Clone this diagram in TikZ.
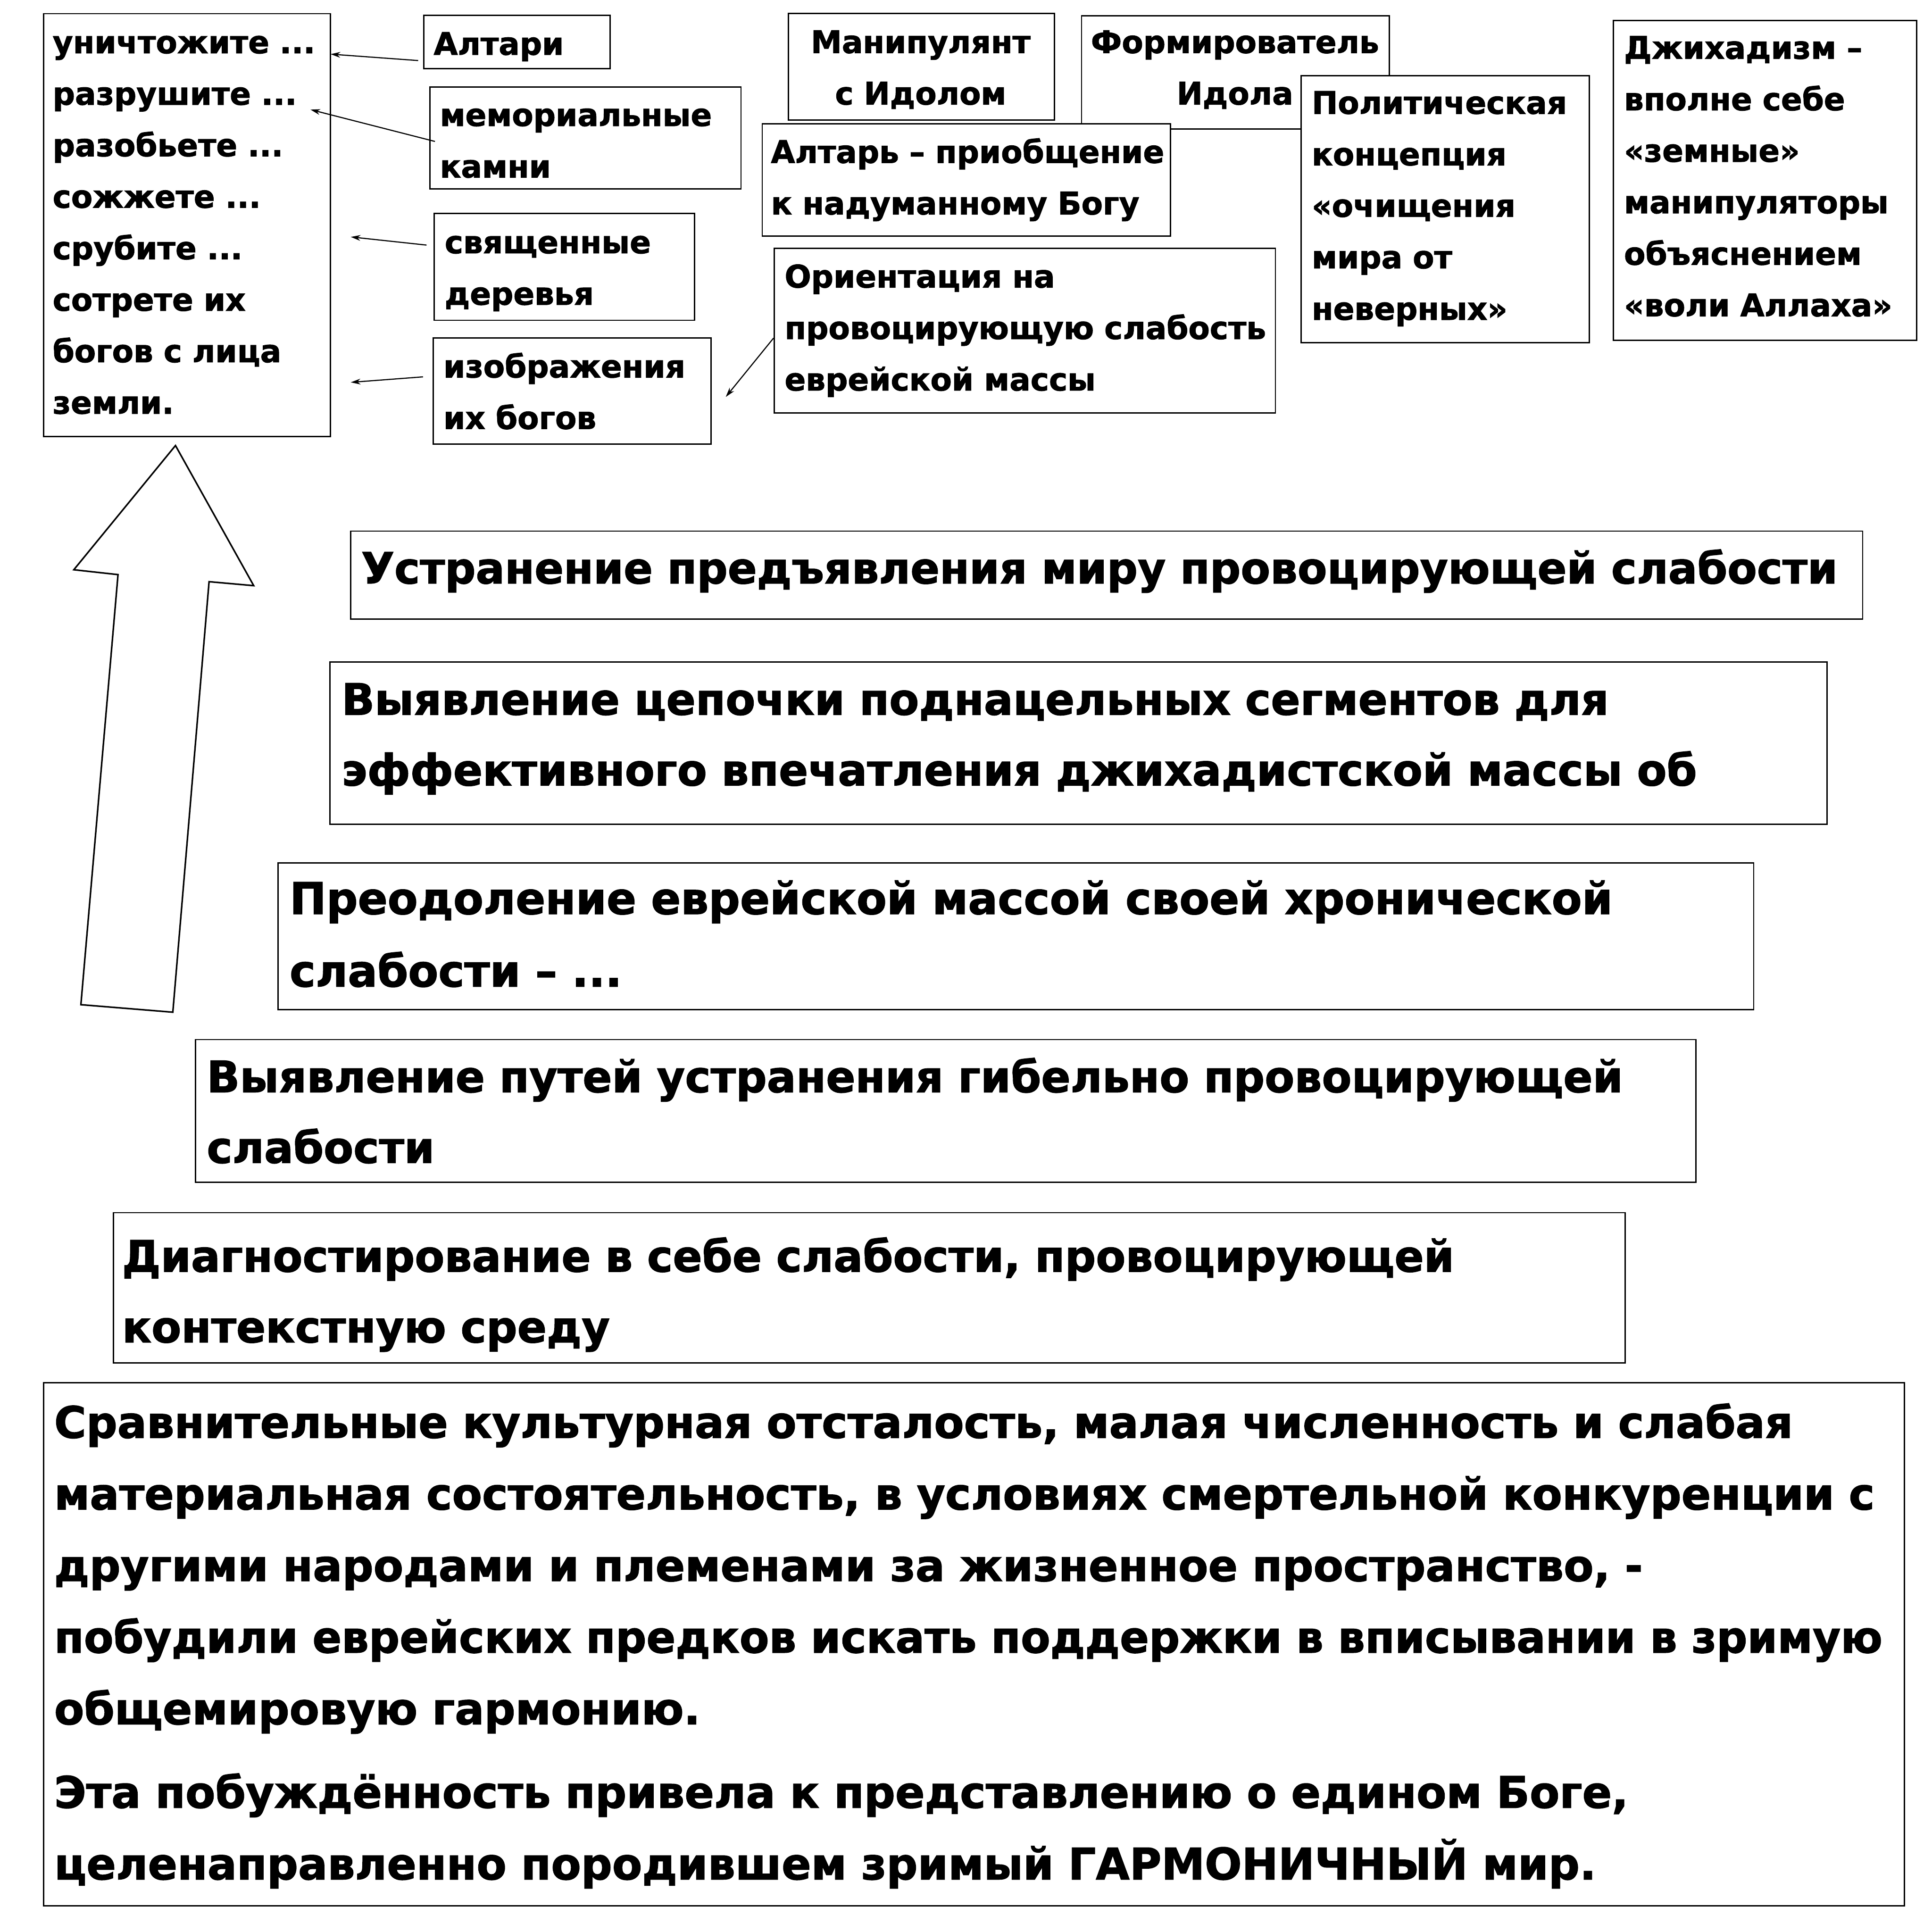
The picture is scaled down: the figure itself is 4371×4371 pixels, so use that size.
\documentclass[tikz,border=0pt]{standalone}
\usepackage{fontspec}
\setmainfont{DejaVu Sans}[BoldFeatures={FakeBold=1.6}]
\usetikzlibrary{arrows.meta}
\begin{document}
\begin{tikzpicture}[x=1pt,y=-1pt,
  box/.style={draw, line width=3pt, fill=white, rectangle, inner sep=0pt, anchor=north west},
  stxt/.style={anchor=base west, inner sep=0pt, align=left, text width=#1,
    font=\fontsize{70.5}{116.5}\selectfont\bfseries},
  ctxt/.style={anchor=base, inner sep=0pt, align=center, text width=#1,
    font=\fontsize{70.5}{116.5}\selectfont\bfseries},
  mtxt/.style={anchor=base west, inner sep=0pt, align=left, text width=#1,
    font=\fontsize{98}{160}\selectfont\bfseries},
  btxt/.style={anchor=base west, inner sep=0pt, align=left, text width=#1,
    font=\fontsize{98.5}{162}\selectfont\bfseries},
  thin/.style={line width=2.5pt, -{Stealth[length=22pt,width=13pt]}},
  bigarrow/.style={draw, line width=3.5pt, fill=white, line join=miter}
]
\useasboundingbox[fill=white] (0,0) rectangle (4371,4371);

% big hollow arrow
\draw[bigarrow] (397,1008) -- (574,1325) -- (473,1316) -- (391,2290) -- (183,2273) -- (267,1300) -- (167,1289) -- cycle;

% left list box
\node[box, minimum width=648.4pt, minimum height=956.2pt] (L) at (97.6,29.5) {};
\node[stxt=640pt] (Lt) at (119,120.5) {уничтожите ...\\разрушите ...\\разобьете ...\\сожжете ...\\срубите ...\\сотрете их\\богов с лица\\земли.};

% small boxes
\node[box, minimum width=422pt, minimum height=120.5pt] (alt) at (957,33.5) {};
\node[stxt=400pt] (altt) at (981,124) {Алтари};

\node[box, minimum width=704pt, minimum height=230.5pt] (mem) at (971,195.5) {};
\node[stxt=690pt] (memt) at (995,285) {мемориальные\\камни};

\node[box, minimum width=589pt, minimum height=242pt] (tree) at (981,481) {};
\node[stxt=580pt] (treet) at (1006,573) {священные\\деревья};

\node[box, minimum width=628pt, minimum height=240pt] (img) at (979,763) {};
\node[stxt=620pt] (imgt) at (1003,854) {изображения\\их богов};

\node[box, minimum width=602pt, minimum height=241pt] (man) at (1782,29) {};
\node[ctxt=600pt] (mant) at (2083,120) {Манипулянт\\с Идолом};

\node[box, minimum width=696.5pt, minimum height=256pt] (form) at (2445.5,34) {};
\node[ctxt=690pt] (formt) at (2794,120) {Формирователь\\Идола};

\node[box, minimum width=924pt, minimum height=254pt] (altar) at (1723,279) {};
\node[stxt=910pt] (altart) at (1744,368.6) {Алтарь – приобщение\\к надуманному Богу};

\node[box, minimum width=1134pt, minimum height=373pt] (ori) at (1750,560) {};
\node[stxt=1120pt] (orit) at (1775,650.5) {Ориентация на\\провоцирующую слабость\\еврейской массы};

\node[box, minimum width=652pt, minimum height=604pt] (pol) at (2942,170) {};
\node[stxt=640pt] (polt) at (2967.5,257.5) {Политическая\\концепция\\«очищения\\мира от\\неверных»};

\node[box, minimum width=686.4pt, minimum height=723.6pt] (jih) at (3648.6,45) {};
\node[stxt=680pt] (jiht) at (3674,133) {Джихадизм –\\вполне себе\\«земные»\\манипуляторы\\объяснением\\«воли Аллаха»};

% arrows
\coordinate (a1s) at (946,137);   \coordinate (a1e) at (748,122.5);
\coordinate (a2s) at (984,320);   \coordinate (a2e) at (702.5,248);
\coordinate (a3s) at (965,554.5); \coordinate (a3e) at (793.6,536);
\coordinate (a4s) at (957,852.6); \coordinate (a4e) at (793.6,865);
\coordinate (a5s) at (1750,765);  \coordinate (a5e) at (1642,898);
\draw[thin] (a1s) -- (a1e);
\draw[thin] (a2s) -- (a2e);
\draw[thin] (a3s) -- (a3e);
\draw[thin] (a4s) -- (a4e);
\draw[thin] (a5s) -- (a5e);

% main steps
\node[box, minimum width=3420.6pt, minimum height=198.7pt] (m1) at (792,1200) {};
\node[mtxt=3500pt, font=\fontsize{97.4}{160}\selectfont\bfseries] (m1t) at (817,1320) {Устранение предъявления миру провоцирующей слабости};

\node[box, minimum width=3387pt, minimum height=367pt] (m2) at (745,1496) {};
\node[mtxt=3400pt] (m2t) at (772.7,1617) {Выявление цепочки поднацельных сегментов для\\эффективного впечатления джихадистской массы об};

\node[box, minimum width=3338pt, minimum height=331.6pt] (m3) at (628,1951) {};
\node[mtxt=3330pt, font=\fontsize{99.4}{164}\selectfont\bfseries] (m3t) at (655,2068) {Преодоление еврейской массой своей хронической\\слабости – ...};

\node[box, minimum width=3394pt, minimum height=322.5pt] (m4) at (441,2350.5) {};
\node[mtxt=3390pt] (m4t) at (467.6,2471) {Выявление путей устранения гибельно провоцирующей\\слабости};

\node[box, minimum width=3420.7pt, minimum height=340pt] (m5) at (255,2742) {};
\node[mtxt=3400pt] (m5t) at (276,2877) {Диагностирование в себе слабости, провоцирующей\\контекстную среду};

\node[box, minimum width=4210pt, minimum height=1183pt] (b) at (97,3127) {};
\node[btxt=4190pt] (bt) at (122.5,3253) {Сравнительные культурная отсталость, малая численность и слабая\\материальная состоятельность, в условиях смертельной конкуренции с\\другими народами и племенами за жизненное пространство, -\\\scalebox{0.988}[1]{побудили еврейских предков искать поддержки в вписывании в зримую}\\общемировую гармонию.\\[27pt]Эта побуждённость привела к представлению о едином Боге,\\целенаправленно породившем зримый ГАРМОНИЧНЫЙ мир.};
\end{tikzpicture}
\end{document}
